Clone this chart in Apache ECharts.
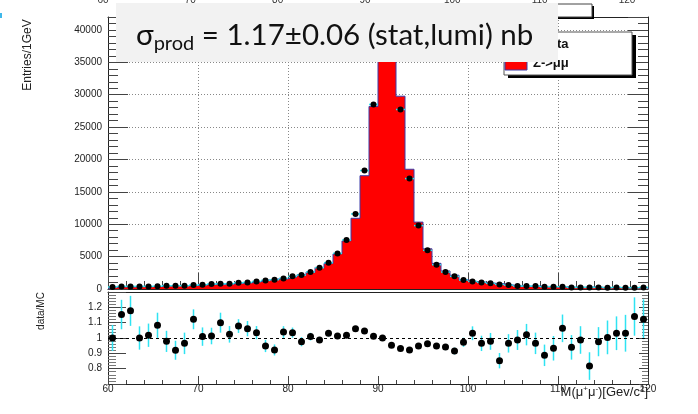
<!DOCTYPE html>
<html><head><meta charset="utf-8">
<script src="https://cdn.jsdelivr.net/npm/echarts@6/dist/echarts.min.js"></script>
<style>html,body{margin:0;padding:0;background:#fff}#c{width:698px;height:414px}</style>
</head><body><div id="c"></div><script>
// ---- data ----
const binCenters = [60.5,61.5,62.5,63.5,64.5,65.5,66.5,67.5,68.5,69.5,
  70.5,71.5,72.5,73.5,74.5,75.5,76.5,77.5,78.5,79.5,
  80.5,81.5,82.5,83.5,84.5,85.5,86.5,87.5,88.5,89.5,
  90.5,91.5,92.5,93.5,94.5,95.5,96.5,97.5,98.5,99.5,
  100.5,101.5,102.5,103.5,104.5,105.5,106.5,107.5,108.5,109.5,
  110.5,111.5,112.5,113.5,114.5,115.5,116.5,117.5,118.5,119.5];
const dataCounts = [300,400,400,400,400,420,500,500,500,600,
  660,760,800,820,970,1020,1170,1330,1430,1640,
  1950,2150,2620,3290,4060,5500,7560,11590,18290,28500,
  38000,37000,27720,17050,9790,5970,3750,2620,1950,1380,
  1170,1020,870,710,600,450,450,450,350,350,
  350,250,250,250,250,200,250,200,200,250];
const mcCounts = [300,350,340,400,390,390,510,545,520,535,
  655,750,730,800,900,960,1130,1400,1550,1580,
  1885,2200,2600,3330,3940,5430,7430,10920,17490,28190,
  38000,38870,29770,18490,10330,6200,3960,2780,2130,1420,
  1135,1060,890,830,620,455,440,465,395,375,
  330,265,255,305,255,200,240,195,175,220];
const ratioValues = [1.0,1.153,1.177,1.0,1.018,1.083,0.978,0.92,0.965,1.122,
  1.009,1.013,1.1,1.024,1.078,1.061,1.035,0.948,0.922,1.039,
  1.035,0.976,1.009,0.987,1.031,1.013,1.018,1.061,1.046,1.011,
  1.0,0.952,0.931,0.922,0.948,0.963,0.948,0.941,0.915,0.972,
  1.031,0.965,0.978,0.852,0.965,0.987,1.022,0.965,0.887,0.933,
  1.063,0.939,0.987,0.817,0.976,1.004,1.031,1.031,1.14,1.122];
const ratioErrors = [0.085,0.096,0.098,0.076,0.076,0.082,0.069,0.062,0.07,0.065,
  0.06,0.054,0.065,0.054,0.045,0.05,0.043,0.04,0.036,0.038,
  0.033,0.03,0.025,0.02,0.02,0.015,0.012,0.01,0.008,0.006,
  0.005,0.005,0.006,0.008,0.01,0.013,0.017,0.02,0.022,0.03,
  0.045,0.05,0.055,0.05,0.06,0.065,0.07,0.07,0.07,0.08,
  0.09,0.08,0.09,0.09,0.095,0.11,0.11,0.12,0.125,0.13];
const massRange = [60, 120];
const massStep = 10;
const countRange = [0, 42000];
const countStep = 5000;
const ratioRange = [0.7, 1.3];
const ratioStep = 0.1;
const ratioRef = 1;
const binWidth = 1;
const sigmaTextParts = ['σ', 'prod', ' = 1.17±0.06 (stat,lumi) nb'];
const legendLabels = ['Data', 'Z->μμ'];
const yTitleTop = 'Entries/1GeV';
const yTitleRatio = 'data/MC';

// ---- build structures ----
const half = binWidth / 2;
const histSteps = [[binCenters[0] - half, 0]];
binCenters.forEach((c, i) => histSteps.push([c - half, mcCounts[i]]));
histSteps.push([binCenters[binCenters.length - 1] + half, mcCounts[mcCounts.length - 1]]);
histSteps.push([binCenters[binCenters.length - 1] + half, 0]);
const dataPts = binCenters.map((c, i) => [c, dataCounts[i]]);
const ratioPts = binCenters.map((c, i) => [c, ratioValues[i], ratioErrors[i]]);

const FONT = '"Liberation Sans", Arial, Helvetica, sans-serif';
const AX = '#222', TK = '#444', CY = '#2fe3f2';
const plain = v => String(v);

function valAxis(extra) {
  return Object.assign({
    type: 'value', axisLine: {show: true, onZero: false, lineStyle: {color: AX, width: 1}},
    axisTick: {show: false}, axisLabel: {show: false}, splitLine: {show: false}
  }, extra);
}

const chart = echarts.init(document.getElementById('c'), null, {renderer: 'canvas'});
chart.setOption({
  animation: false,
  backgroundColor: '#fff',
  grid: [
    {left: 108, top: 17, width: 540, height: 272},
    {left: 108, top: 292, width: 540, height: 92},
    {left: 103, top: -35, right: 71, height: 20}
  ],
  xAxis: [
    valAxis({gridIndex: 0, min: massRange[0], max: massRange[1], interval: massStep, position: 'bottom',
      axisTick: {show: true, inside: true, length: 16, lineStyle: {color: TK}},
      minorTick: {show: true, splitNumber: 5, length: 8, lineStyle: {color: TK}},
      splitLine: {show: true, lineStyle: {color: '#888', type: [1, 2], width: 1}}}),
    valAxis({gridIndex: 0, min: massRange[0], max: massRange[1], position: 'top'}),
    valAxis({gridIndex: 1, min: massRange[0], max: massRange[1], interval: massStep, position: 'bottom',
      axisTick: {show: true, inside: true, length: 8, lineStyle: {color: TK}},
      minorTick: {show: true, splitNumber: 5, length: 4, lineStyle: {color: TK}},
      axisLabel: {show: true, fontSize: 10, color: '#222', margin: 0, fontFamily: FONT, formatter: plain}}),
    valAxis({gridIndex: 1, min: massRange[0], max: massRange[1], position: 'top'}),
    valAxis({gridIndex: 2, min: massRange[0], max: massRange[1], interval: massStep, position: 'bottom',
      axisLine: {show: false},
      axisLabel: {show: true, fontSize: 10, color: '#333', margin: 5, fontFamily: FONT, formatter: plain}})
  ],
  yAxis: [
    valAxis({gridIndex: 0, min: countRange[0], max: countRange[1], interval: countStep, position: 'left',
      axisTick: {show: true, inside: true, length: 20, lineStyle: {color: TK}},
      minorTick: {show: true, splitNumber: 5, length: 10, lineStyle: {color: TK}},
      axisLabel: {show: true, fontSize: 10, color: '#222', margin: 6, showMaxLabel: false, fontFamily: FONT, formatter: plain},
      splitLine: {show: true, lineStyle: {color: '#888', type: [1, 2], width: 1}}}),
    valAxis({gridIndex: 0, min: countRange[0], max: countRange[1], interval: countStep, position: 'right',
      axisTick: {show: true, inside: true, length: 20, lineStyle: {color: TK}},
      minorTick: {show: true, splitNumber: 5, length: 10, lineStyle: {color: TK}}}),
    valAxis({gridIndex: 1, min: ratioRange[0], max: ratioRange[1], interval: ratioStep, position: 'left',
      axisTick: {show: true, inside: true, length: 18, lineStyle: {color: TK}},
      minorTick: {show: true, splitNumber: 5, length: 8, lineStyle: {color: '#777'}},
      axisLabel: {show: true, fontSize: 10, color: '#222', margin: 6, showMinLabel: false, showMaxLabel: false, fontFamily: FONT, formatter: plain}}),
    valAxis({gridIndex: 1, min: ratioRange[0], max: ratioRange[1], interval: ratioStep, position: 'right',
      axisTick: {show: true, inside: true, length: 9, lineStyle: {color: TK}},
      minorTick: {show: true, splitNumber: 5, length: 6, lineStyle: {color: '#777'}}}),
    valAxis({gridIndex: 2, min: 0, max: 1, axisLine: {show: false}})
  ],
  series: [
    {type: 'line', xAxisIndex: 0, yAxisIndex: 0, data: histSteps, step: 'end', symbol: 'none',
      lineStyle: {color: '#3c3ca8', width: 1}, areaStyle: {color: '#ff0000', opacity: 1}, z: 2, silent: true},
    {type: 'custom', xAxisIndex: 0, yAxisIndex: 0, data: dataPts, z: 3, silent: true,
      renderItem: function (params, api) {
        const x = api.value(0), y = api.value(1);
        const a = api.coord([x - half, y]), b = api.coord([x + half, y]);
        return {type: 'line', shape: {x1: a[0], y1: a[1], x2: b[0], y2: b[1]}, style: {stroke: CY, lineWidth: 1.5}};
      }},
    {type: 'scatter', xAxisIndex: 0, yAxisIndex: 0, data: dataPts, symbol: 'circle', symbolSize: 6,
      itemStyle: {color: '#000', opacity: 1}, z: 4, silent: true},
    {type: 'custom', xAxisIndex: 2, yAxisIndex: 2, data: ratioPts, z: 3, silent: true,
      renderItem: function (params, api) {
        const x = api.value(0), r = api.value(1), e = api.value(2);
        const a = api.coord([x, r - e]), b = api.coord([x, r + e]);
        return {type: 'line', shape: {x1: a[0], y1: a[1], x2: b[0], y2: b[1]}, style: {stroke: CY, lineWidth: 1.5}};
      }},
    {type: 'scatter', xAxisIndex: 2, yAxisIndex: 2, data: ratioPts, symbol: 'circle', symbolSize: 7,
      itemStyle: {color: '#000', opacity: 1}, z: 4, silent: true,
      markLine: {silent: true, symbol: 'none', label: {show: false},
        lineStyle: {color: '#000', type: [3, 3], width: 1},
        data: [{yAxis: ratioRef}]}}
  ],
  graphic: [
    {type: 'rect', shape: {x: 0, y: 13, width: 2, height: 5}, style: {fill: '#3fb8ea'}, z: 100},
    // small box at top
    {type: 'rect', shape: {x: 542, y: 6, width: 52, height: 13}, style: {fill: '#000'}, z: 40},
    {type: 'rect', shape: {x: 540, y: 4, width: 52, height: 13}, style: {fill: '#fff', stroke: '#444', lineWidth: 1}, z: 41},
    // legend
    {type: 'rect', shape: {x: 508, y: 35, width: 128, height: 43}, style: {fill: '#000'}, z: 50},
    {type: 'rect', shape: {x: 504, y: 32, width: 128, height: 43}, style: {fill: '#fff', stroke: '#555', lineWidth: 1}, z: 51},
    {type: 'rect', shape: {x: 505, y: 60, width: 22, height: 10}, style: {fill: '#ff0000', stroke: '#3c3ca8', lineWidth: 1}, z: 52},
    {type: 'text', x: 568.5, y: 44, z: 52, style: {text: legendLabels[0], align: 'right', verticalAlign: 'middle',
      fontSize: 13, fontWeight: 'bold', fill: '#111', fontFamily: FONT}},
    {type: 'text', x: 533, y: 63, z: 52, style: {text: legendLabels[1], align: 'left', verticalAlign: 'middle',
      fontSize: 13, fontWeight: 'bold', fill: '#111', fontFamily: FONT}},
    // sigma box
    {type: 'rect', shape: {x: 116, y: 3, width: 442, height: 59}, style: {fill: '#f2f2f2'}, z: 100},
    {type: 'text', x: 136, y: 17, z: 101, style: {
      text: '{m|' + sigmaTextParts[0] + '}{s|' + sigmaTextParts[1] + '}{m|' + sigmaTextParts[2] + '}',
      align: 'left', verticalAlign: 'top',
      rich: {
        m: {fontSize: 29.5, lineHeight: 37, fontFamily: 'Lato, "Open Sans", sans-serif', fill: '#111', color: '#111'},
        s: {fontSize: 20, lineHeight: 14, verticalAlign: 'bottom', fontFamily: 'Lato, "Open Sans", sans-serif', fill: '#111', color: '#111'}
      }}},
    // axis titles
    {type: 'text', x: 28, y: 55, rotation: Math.PI / 2, z: 10, style: {text: yTitleTop, align: 'center', verticalAlign: 'middle',
      fontSize: 12, fill: '#222', fontFamily: FONT}},
    {type: 'text', x: 41, y: 311, rotation: Math.PI / 2, z: 10, style: {text: yTitleRatio, align: 'center', verticalAlign: 'middle',
      fontSize: 10, fill: '#222', fontFamily: FONT}},
    {type: 'text', x: 648, y: 392, z: 10, style: {
      text: '{n|M(μ}{p|+}{n|μ}{p|-}{n|)[Gev/c}{p|2}{n|]}', align: 'right', verticalAlign: 'middle',
      rich: {
        n: {fontSize: 13, lineHeight: 15, fontFamily: FONT, fill: '#222', color: '#222'},
        p: {fontSize: 8, lineHeight: 8, verticalAlign: 'top', fontFamily: FONT, fill: '#222', color: '#222'}
      }}}
  ]
});
</script></body></html>
